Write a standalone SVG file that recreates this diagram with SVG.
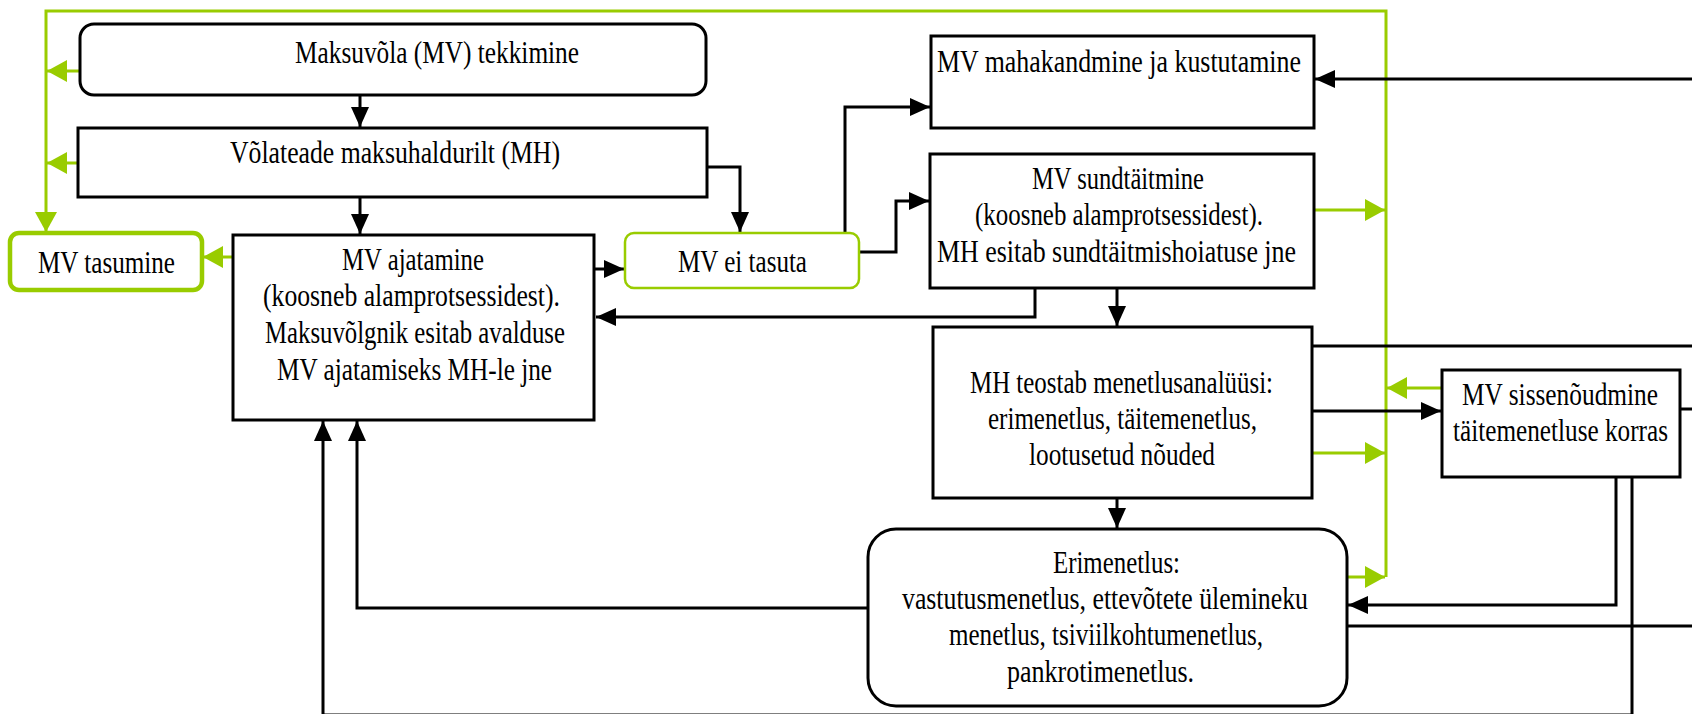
<svg xmlns="http://www.w3.org/2000/svg" width="1692" height="714" viewBox="0 0 1692 714">
<style>
.box{fill:#fff;stroke:#000;stroke-width:3}
.gbox{fill:#fff;stroke:#99cc00}
.t{font-family:"Liberation Serif","Times New Roman",serif;font-size:31px;fill:#000}
.c{fill:none;stroke:#000;stroke-width:3}
.g{fill:none;stroke:#99cc00;stroke-width:3}
</style>
<defs>
<marker id="ab" markerUnits="userSpaceOnUse" markerWidth="20" markerHeight="18" refX="20" refY="9" orient="auto"><path d="M0,0 L20,9 L0,18 z" fill="#000"/></marker>
<marker id="ag" markerUnits="userSpaceOnUse" markerWidth="20" markerHeight="22" refX="20" refY="11" orient="auto"><path d="M0,0 L20,11 L0,22 z" fill="#99cc00"/></marker>
</defs>
<rect width="1692" height="714" fill="#fff"/>
<g id="connectors">
<path class="g" d="M1386,577 V11 H46 V232" marker-end="url(#ag)"/>
<path class="g" d="M80,71 H47" marker-end="url(#ag)"/>
<path class="g" d="M78,163 H47" marker-end="url(#ag)"/>
<path class="g" d="M233,257 H203" marker-end="url(#ag)"/>
<path class="g" d="M1314,210 H1385" marker-end="url(#ag)"/>
<path class="g" d="M1442,388 H1387" marker-end="url(#ag)"/>
<path class="g" d="M1312,453 H1385" marker-end="url(#ag)"/>
<path class="g" d="M1347,577 H1385" marker-end="url(#ag)"/>
<path class="c" d="M360,95 V127" marker-end="url(#ab)"/>
<path class="c" d="M360,197 V234" marker-end="url(#ab)"/>
<path class="c" d="M707,167 H740 V232" marker-end="url(#ab)"/>
<path class="c" d="M595,269 H624" marker-end="url(#ab)"/>
<path class="c" d="M845,233 V107 H930" marker-end="url(#ab)"/>
<path class="c" d="M859,252 H896 V201 H929" marker-end="url(#ab)"/>
<path class="c" d="M1035,288 V317 H596" marker-end="url(#ab)"/>
<path class="c" d="M1117,288 V326" marker-end="url(#ab)"/>
<path class="c" d="M1692,79 H1315" marker-end="url(#ab)"/>
<path class="c" d="M1312,346 H1692"/>
<path class="c" d="M1312,411 H1441" marker-end="url(#ab)"/>
<path class="c" d="M1680,409 H1692"/>
<path class="c" d="M1117,498 V528" marker-end="url(#ab)"/>
<path class="c" d="M1616,477 V605 H1348" marker-end="url(#ab)"/>
<path class="c" d="M1347,626 H1692"/>
<path class="c" d="M868,608 H357 V421" marker-end="url(#ab)"/>
<path class="c" d="M1632,477 V715 H323 V421" marker-end="url(#ab)"/>
</g>
<g id="n-tekkimine">
<rect class="box" x="80" y="24" width="626" height="71" rx="14"/>
<text class="t" x="295" y="63" textLength="284" lengthAdjust="spacingAndGlyphs">Maksuvõla (MV) tekkimine</text>
</g>
<g id="n-volateade">
<rect class="box" x="78" y="128" width="629" height="69"/>
<text class="t" x="230" y="163" textLength="330" lengthAdjust="spacingAndGlyphs">Võlateade maksuhaldurilt (MH)</text>
</g>
<g id="n-tasumine">
<rect class="gbox" x="10" y="233" width="192" height="57" rx="9" stroke-width="4.5"/>
<text class="t" x="38" y="273" textLength="137" lengthAdjust="spacingAndGlyphs">MV tasumine</text>
</g>
<g id="n-ajatamine">
<rect class="box" x="233" y="235" width="361" height="185"/>
<text class="t" x="342" y="270" textLength="142" lengthAdjust="spacingAndGlyphs">MV ajatamine</text>
<text class="t" x="263" y="306" textLength="297" lengthAdjust="spacingAndGlyphs">(koosneb alamprotsessidest).</text>
<text class="t" x="265" y="343" textLength="300" lengthAdjust="spacingAndGlyphs">Maksuvõlgnik esitab avalduse</text>
<text class="t" x="277" y="380" textLength="275" lengthAdjust="spacingAndGlyphs">MV ajatamiseks MH-le jne</text>
</g>
<g id="n-eitasuta">
<rect class="gbox" x="625" y="233" width="234" height="55" rx="9" stroke-width="2.5"/>
<text class="t" x="678" y="272" textLength="129" lengthAdjust="spacingAndGlyphs">MV ei tasuta</text>
</g>
<g id="n-mahakandmine">
<rect class="box" x="931" y="36" width="383" height="92"/>
<text class="t" x="937" y="72" textLength="364" lengthAdjust="spacingAndGlyphs">MV mahakandmine ja kustutamine</text>
</g>
<g id="n-sundtaitmine">
<rect class="box" x="930" y="154" width="384" height="134"/>
<text class="t" x="1032" y="189" textLength="172" lengthAdjust="spacingAndGlyphs">MV sundtäitmine</text>
<text class="t" x="975" y="225" textLength="288" lengthAdjust="spacingAndGlyphs">(koosneb alamprotsessidest).</text>
<text class="t" x="937" y="262" textLength="359" lengthAdjust="spacingAndGlyphs">MH esitab sundtäitmishoiatuse jne</text>
</g>
<g id="n-analuus">
<rect class="box" x="933" y="327" width="379" height="171"/>
<text class="t" x="970" y="393" textLength="303" lengthAdjust="spacingAndGlyphs">MH teostab menetlusanalüüsi:</text>
<text class="t" x="988" y="429" textLength="269" lengthAdjust="spacingAndGlyphs">erimenetlus, täitemenetlus,</text>
<text class="t" x="1029" y="465" textLength="186" lengthAdjust="spacingAndGlyphs">lootusetud nõuded</text>
</g>
<g id="n-sissenoudmine">
<rect class="box" x="1442" y="370" width="238" height="107"/>
<text class="t" x="1462" y="405" textLength="196" lengthAdjust="spacingAndGlyphs">MV sissenõudmine</text>
<text class="t" x="1453" y="441" textLength="215" lengthAdjust="spacingAndGlyphs">täitemenetluse korras</text>
</g>
<g id="n-erimenetlus">
<rect class="box" x="868" y="529" width="479" height="177" rx="28"/>
<text class="t" x="1053" y="573" textLength="127" lengthAdjust="spacingAndGlyphs">Erimenetlus:</text>
<text class="t" x="902" y="609" textLength="406" lengthAdjust="spacingAndGlyphs">vastutusmenetlus, ettevõtete ülemineku</text>
<text class="t" x="949" y="645" textLength="314" lengthAdjust="spacingAndGlyphs">menetlus, tsiviilkohtumenetlus,</text>
<text class="t" x="1007" y="682" textLength="187" lengthAdjust="spacingAndGlyphs">pankrotimenetlus.</text>
</g>
</svg>
